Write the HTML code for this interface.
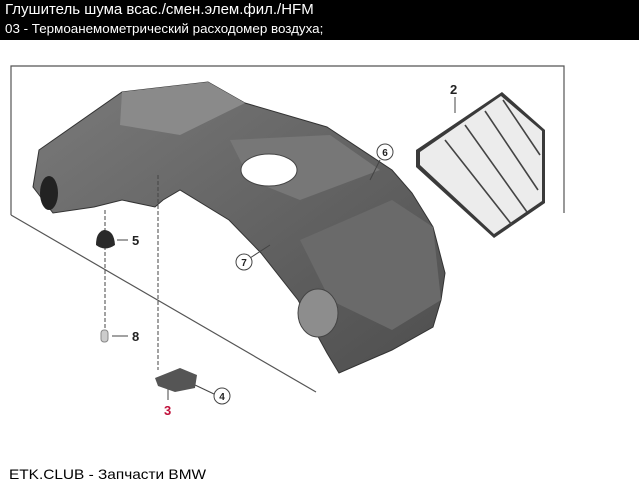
<!DOCTYPE html>
<html><head><meta charset="utf-8"><style>
body{margin:0;width:639px;height:487px;background:#fff;position:relative;overflow:hidden;font-family:"Liberation Sans","Noto Sans CJK SC",sans-serif}
.hd{position:absolute;left:0;top:0;width:639px;height:40px;background:#000;color:#fff}
.t1{position:absolute;left:5px;top:1px;font-size:15px;white-space:nowrap}
.t2{position:absolute;left:5px;top:21px;font-size:13px;transform:scaleX(1.03);transform-origin:left;white-space:nowrap}
.ft{position:absolute;left:9px;top:466px;font-size:14px;transform:scaleX(1.1);transform-origin:left;white-space:nowrap}
</style></head><body>
<div class="hd"><div class="t1">Глушитель шума всас./смен.элем.фил./HFM</div><div class="t2">03 - Термоанемометрический расходомер воздуха;</div></div>
<svg width="639" height="487" style="position:absolute;left:0;top:0">
<g fill="none" stroke="#555" stroke-width="1.2">
<polyline points="11,215 11,66 564,66 564,213"/>
<line x1="11" y1="215" x2="316" y2="392"/>
</g>
<defs><linearGradient id="g" x1="0" y1="0" x2="1" y2="1"><stop offset="0" stop-color="#7a7a7a"/><stop offset="1" stop-color="#4e4e4e"/></linearGradient></defs>
<polygon fill="url(#g)" stroke="#333" stroke-width="1" points="39,150 122,92 208,82 245,103 327,127 392,170 412,193 433,227 445,273 441,300 433,327 392,350 339,373 327,353 298,300 261,253 229,220 180,190 163,200 155,207 122,200 94,207 53,213 33,187"/>
<polygon fill="#8a8a8a" points="122,92 208,82 245,103 180,135 120,125"/>
<polygon fill="#777" points="230,140 330,135 380,170 300,200 250,180"/>
<polygon fill="#6a6a6a" points="300,240 392,200 433,227 441,300 392,330 330,300"/>
<ellipse cx="269" cy="170" rx="28" ry="16" fill="#fff" stroke="#444"/>
<ellipse cx="49" cy="193" rx="9" ry="17" fill="#222"/>
<ellipse cx="318" cy="313" rx="20" ry="24" fill="#8d8d8d" stroke="#444"/>
<polygon fill="#3a3a3a" points="416,150 502,92 545,130 545,203 494,238 416,167"/>
<polygon fill="#ececec" points="420,152 501,96 542,131 542,201 494,234 420,165"/>
<g stroke="#444" stroke-width="1.6"><line x1="445" y1="140" x2="512" y2="225"/><line x1="465" y1="125" x2="527" y2="212"/><line x1="485" y1="111" x2="538" y2="190"/><line x1="503" y1="100" x2="540" y2="155"/></g>
<g stroke="#444" stroke-width="1" fill="none">
<line x1="455" y1="97" x2="455" y2="113"/>
<line x1="158" y1="175" x2="158" y2="370" stroke-dasharray="4,2"/>
<line x1="105" y1="210" x2="105" y2="330" stroke-dasharray="4,2"/>
<line x1="117" y1="240" x2="128" y2="240"/><line x1="112" y1="336" x2="128" y2="336"/>
<line x1="195" y1="385" x2="214" y2="394"/>
<line x1="168" y1="385" x2="168" y2="400"/>
<line x1="250" y1="258" x2="270" y2="245"/>
<line x1="380" y1="160" x2="370" y2="180"/>
<circle cx="385" cy="152" r="8" fill="#fff"/><circle cx="244" cy="262" r="8" fill="#fff"/><circle cx="222" cy="396" r="8" fill="#fff"/>
</g>
<path d="M96,245 Q96,232 104,230 Q114,230 115,245 Q105,252 96,245 Z" fill="#2a2a2a"/>
<rect x="101" y="330" width="7" height="12" rx="3" fill="#ccc" stroke="#888"/>
<polygon points="155,378 180,368 197,375 195,388 175,392 158,386" fill="#555"/>
<g font-family="Liberation Sans,sans-serif" font-weight="bold" font-size="13" fill="#222">
<text x="450" y="94">2</text><text x="132" y="245">5</text><text x="132" y="341">8</text>
<text x="164" y="415" fill="#c0103a">3</text>
</g>
<g font-family="Liberation Sans,sans-serif" font-weight="bold" font-size="10" fill="#222" text-anchor="middle">
<text x="385" y="156">6</text><text x="244" y="266">7</text><text x="222" y="400">4</text>
</g>
</svg>
<div class="ft">ETK.CLUB - Запчасти BMW</div>
</body></html>
